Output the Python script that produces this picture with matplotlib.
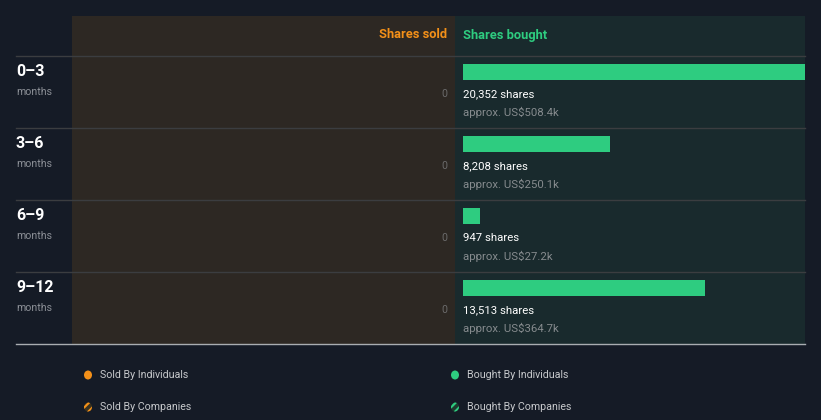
import matplotlib
matplotlib.use("Agg")
import matplotlib.pyplot as plt
from matplotlib.patches import Rectangle, Ellipse

plt.rcParams['font.family'] = ['Roboto', 'DejaVu Sans']
plt.rcParams['hatch.linewidth'] = 1.6

# ---- data ----
periods = ["0\u20133", "3\u20136", "6\u20139", "9\u201312"]
period_unit = "months"
shares_sold = [0, 0, 0, 0]
shares_bought = [20352, 8208, 947, 13513]
bought_value = ["US$508.4k", "US$250.1k", "US$27.2k", "US$364.7k"]
legend_labels = ["Sold By Individuals", "Bought By Individuals",
                 "Sold By Companies", "Bought By Companies"]

BG = "#151b26"
SOLD_BG = "#2d2823"
BOUGHT_BG = "#192a2d"
GREEN = "#2ecc80"
ORANGE = "#f39019"
GREY = "#8c9097"

W, H = 821, 420
fig = plt.figure(figsize=(W / 100, H / 100), dpi=100, facecolor=BG)
ax0 = fig.add_axes([0, 0, 1, 1])
ax0.set_xlim(0, W)
ax0.set_ylim(H, 0)
ax0.axis("off")
ax0.set_facecolor(BG)

top, head, row_h = 16, 56, 72
n = len(periods)
bottom = head + row_h * n
ax0.add_patch(Rectangle((72, top), 455 - 72, bottom - top, color=SOLD_BG, lw=0, zorder=0))
ax0.add_patch(Rectangle((455, top), 805 - 455, bottom - top, color=BOUGHT_BG, lw=0, zorder=0))

ax0.text(447, 35, "Shares sold", color=ORANGE, fontsize=9.3, fontweight="bold",
         ha="right", va="center")
ax0.text(463, 35, "Shares bought", color=GREEN, fontsize=9.3, fontweight="bold",
         ha="left", va="center")

for i in range(n):
    y0 = head + row_h * i
    ax0.plot([16, 805], [y0, y0], color="#3b3d40", lw=1, zorder=2)
    ax0.text(16, y0 + 15, periods[i], color="white", fontsize=11.5, fontweight="bold",
             ha="left", va="center")
    ax0.text(16, y0 + 36, period_unit, color=GREY, fontsize=7.7, ha="left", va="center")
    ax0.text(447, y0 + 38, f"{shares_sold[i]:,}", color="#6b6b6b", fontsize=7.7,
             ha="right", va="center")
    ax0.text(463, y0 + 38, f"{shares_bought[i]:,} shares", color="white", fontsize=8.2,
             ha="left", va="center")
    ax0.text(463, y0 + 56, f"approx. {bought_value[i]}", color="#868b8e", fontsize=8.2,
             ha="left", va="center")
ax0.plot([16, 805], [bottom, bottom], color="#a9adb1", lw=1, zorder=2)

# bars axis (bought side)
axb = fig.add_axes([463 / W, 1 - bottom / H, (805 - 463) / W, (bottom - head) / H])
axb.set_xlim(0, 19100)
axb.set_ylim(n, 0)
axb.axis("off")
axb.patch.set_alpha(0)
axb.barh([i + 16 / row_h for i in range(n)], shares_bought, height=16 / row_h,
         left=0, color=GREEN, align="center")

# legend
leg_pos = [(88, 375), (455, 375), (88, 407), (455, 407)]
leg_cols = [ORANGE, GREEN, ORANGE, GREEN]
for k, (lab, (x, y), c) in enumerate(zip(legend_labels, leg_pos, leg_cols)):
    if k < 2:
        ax0.add_patch(Ellipse((x, y), 8, 9, color=c, lw=0))
    else:
        ax0.add_patch(Ellipse((x, y), 8, 9, facecolor="#3a3320" if c == ORANGE else "#1d3a2e",
                              edgecolor=c, lw=0, hatch="////"))
    ax0.text(x + 12, y, lab, color="#c7c9cc", fontsize=7.7, ha="left", va="center")

fig.savefig("out.png", dpi=100, facecolor=BG)
